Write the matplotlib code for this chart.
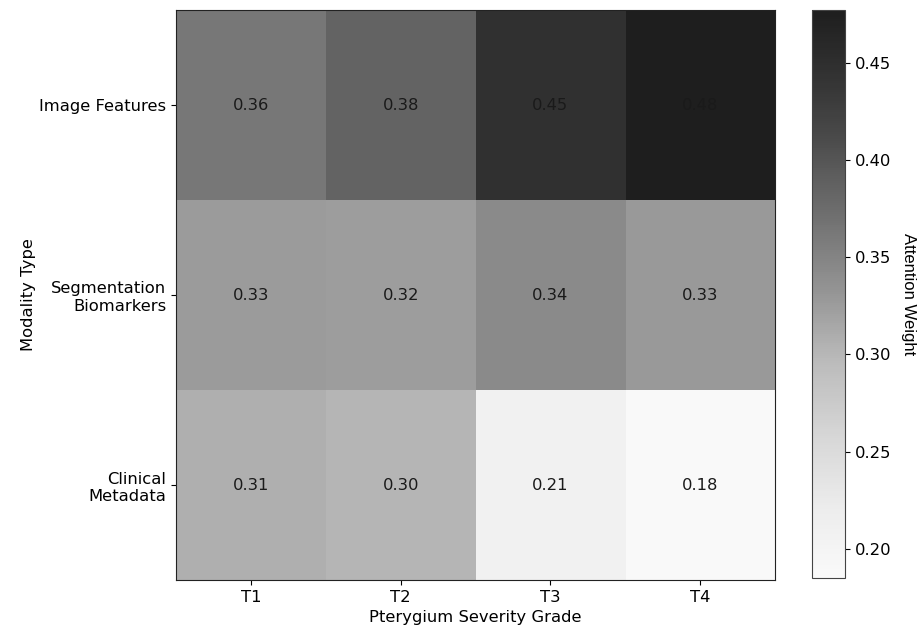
import numpy as np
import matplotlib.pyplot as plt
from matplotlib.colors import ListedColormap

# 模态 x 分级 的注意力权重
grades = ['T1', 'T2', 'T3', 'T4']
modalities = ['Image Features', 'Segmentation\nBiomarkers', 'Clinical\nMetadata']
image_feat = [0.362, 0.384, 0.447, 0.477]
seg_bio = [0.326, 0.324, 0.343, 0.328]
clinical = [0.308, 0.302, 0.207, 0.185]

weights = np.array([image_feat, seg_bio, clinical])

# Greys 两端压一下：最深约 #1e1e1e，最浅约 #fafafa，中间不变
base = plt.get_cmap('Greys')(np.linspace(0, 1, 256))
g = base[:, 0]
g_new = np.interp(g, [0, 0.3, 0.7, 1], [0.118, 0.3, 0.7, 0.98])
cols = np.column_stack([g_new, g_new, g_new, np.ones_like(g_new)])
cmap = ListedColormap(cols)

plt.rcParams['font.size'] = 11.8

fig = plt.figure(figsize=(9.19, 6.29), dpi=100)
ax = fig.add_axes([176 / 919, 49 / 629, 599 / 919, 570 / 629])
cax = fig.add_axes([812 / 919, 51 / 629, 33 / 919, 568 / 629])

im = ax.imshow(weights, cmap=cmap, aspect='auto',
               vmin=weights.min(), vmax=weights.max())

# 每个格子写上数值
for i in range(weights.shape[0]):
    for j in range(weights.shape[1]):
        ax.text(j, i, f'{weights[i, j]:.2f}', ha='center', va='center',
                color='#1a1a1a')

ax.set_xticks(range(len(grades)))
ax.set_xticklabels(grades)
ax.set_yticks(range(len(modalities)))
ax.set_yticklabels(modalities)
ax.set_xlabel('Pterygium Severity Grade')
ax.set_ylabel('Modality Type', labelpad=2)
for s in ax.spines.values():
    s.set_color('#222222')

cbar = fig.colorbar(im, cax=cax)
cbar.outline.set_edgecolor('#444444')
cbar.set_label('Attention Weight', rotation=270, labelpad=18,
               family='Liberation Sans', fontsize=12)

plt.savefig('out.png', dpi=100)
